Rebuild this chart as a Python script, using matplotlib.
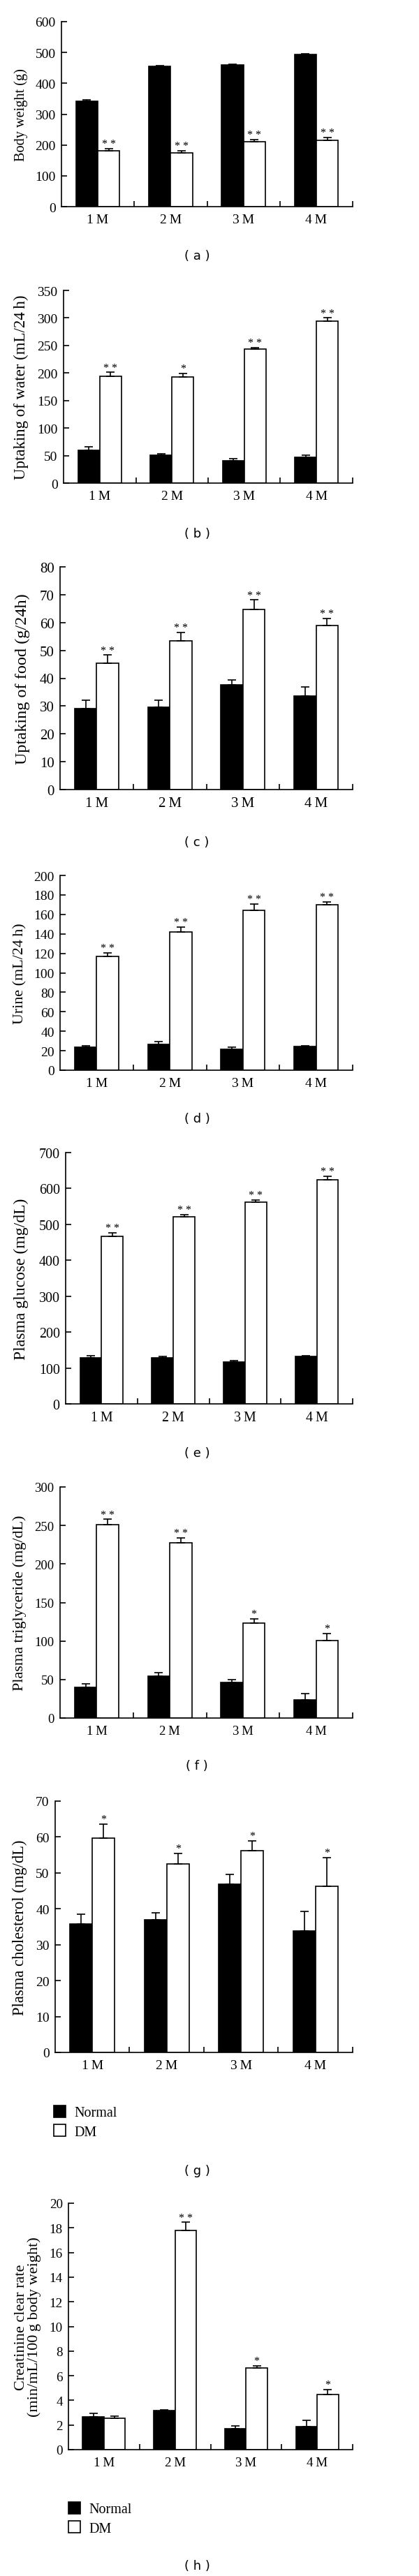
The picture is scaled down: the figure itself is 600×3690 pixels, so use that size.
import matplotlib
matplotlib.use('Agg')
import matplotlib.pyplot as plt
from matplotlib.patches import Patch
import numpy as np

plt.rcParams['font.family'] = ['Liberation Serif', 'DejaVu Serif']

# --- Data ---
months = ['1\u2009M', '2\u2009M', '3\u2009M', '4\u2009M']

weight_normal = [341, 454, 460, 493]
weight_normal_err = [6, 3, 3, 3]
weight_dm = [181, 174, 211, 214]
weight_dm_err = [7, 7, 7, 10]
weight_stars = ['**', '**', '**', '**']

water_normal = [60, 50.5, 41, 47]
water_normal_err = [6, 3, 4, 4]
water_dm = [194, 193, 243, 294]
water_dm_err = [7, 6, 3, 6]
water_stars = ['**', '*', '**', '**']

food_normal = [29.2, 29.5, 37.6, 33.6]
food_normal_err = [2.8, 2.5, 1.7, 3.2]
food_dm = [45.3, 53.4, 64.8, 59.0]
food_dm_err = [3, 3, 3.3, 2.5]
food_stars = ['**', '**', '**', '**']

urine_normal = [23.4, 26.8, 21.3, 24.6]
urine_normal_err = [2, 2.6, 2, 0.8]
urine_dm = [116.7, 142.1, 164.5, 170]
urine_dm_err = [4, 5, 6, 3]
urine_stars = ['**', '**', '**', '**']

glucose_normal = [129, 129, 117, 133]
glucose_normal_err = [6, 2.5, 2.6, 2]
glucose_dm = [467, 522, 562, 625]
glucose_dm_err = [9, 5, 6, 9]
glucose_stars = ['**', '**', '**', '**']

tg_normal = [40, 54.7, 46, 24]
tg_normal_err = [4, 4, 4, 8]
tg_dm = [251, 227.7, 123, 100.6]
tg_dm_err = [7, 6, 5.5, 9]
tg_stars = ['**', '**', '*', '*']

chol_normal = [35.8, 36.9, 46.9, 33.9]
chol_normal_err = [2.7, 2, 2.7, 5.3]
chol_dm = [59.6, 52.5, 56.2, 46.2]
chol_dm_err = [4, 3, 2.8, 8]
chol_stars = ['*', '*', '*', '*']

creat_normal = [2.68, 3.18, 1.70, 1.89]
creat_normal_err = [0.25, 0.07, 0.2, 0.47]
creat_dm = [2.57, 17.8, 6.62, 4.5]
creat_dm_err = [0.17, 0.65, 0.2, 0.38]
creat_stars = ['', '**', '*', '*']

W, H = 600, 3691
RIGHT = 505
fig = plt.figure(figsize=(W / 100, H / 100), dpi=100)

# (normal, err, dm, err, stars, ymax, step, ylabel, tag,
#  left px, top px, zero px, tick size, ylabel size, ylabel x px)
panels = [
    (weight_normal, weight_normal_err, weight_dm, weight_dm_err, weight_stars,
     600, 100, 'Body weight (g)', 'a', 88, 32, 297, 14, 14.6, 30),
    (water_normal, water_normal_err, water_dm, water_dm_err, water_stars,
     350, 50, 'Uptaking of water (mL/24\u2009h)', 'b', 91, 417, 693, 14, 16.5, 30),
    (food_normal, food_normal_err, food_dm, food_dm_err, food_stars,
     80, 10, 'Uptaking of food (g/24h)', 'c', 86, 813, 1132, 15, 17.5, 32),
    (urine_normal, urine_normal_err, urine_dm, urine_dm_err, urine_stars,
     200, 20, 'Urine (mL/24\u2009h)', 'd', 86, 1255, 1534, 14, 15.8, 29),
    (glucose_normal, glucose_normal_err, glucose_dm, glucose_dm_err, glucose_stars,
     700, 100, 'Plasma glucose (mg/dL)', 'e', 94, 1652, 2012, 14.4, 17, 30),
    (tg_normal, tg_normal_err, tg_dm, tg_dm_err, tg_stars,
     300, 50, 'Plasma triglyceride (mg/dL)', 'f', 86, 2131, 2462, 13.5, 16, 28),
    (chol_normal, chol_normal_err, chol_dm, chol_dm_err, chol_stars,
     70, 10, 'Plasma cholesterol (mg/dL)', 'g', 79, 2581, 2941, 14, 16.3, 28),
    (creat_normal, creat_normal_err, creat_dm, creat_dm_err, creat_stars,
     20, 2, 'Creatinine clear rate\n(min/mL/100\u2009g body weight)', 'h', 98, 3157, 3510, 13.7, 16, 40),
]

tag_y = {'a': 367, 'b': 765, 'c': 1207, 'd': 1603, 'e': 2082, 'f': 2530, 'g': 3110, 'h': 3676}

x = np.arange(4)
bw = 0.3
LW = 1.2

for (nv, ne, dv, de, stars, ymax, step, ylabel, tag, left, top, zero, fs, lfs, ylx) in panels:
    ax = fig.add_axes([left / W, 1 - zero / H, (RIGHT - left) / W, (zero - top) / H])
    ax.bar(x - bw / 2, nv, bw, color='black', edgecolor='black', linewidth=LW)
    ax.bar(x + bw / 2, dv, bw, color='white', edgecolor='black', linewidth=LW)
    ax.errorbar(x - bw / 2, nv, yerr=[np.zeros(4), ne], fmt='none', ecolor='black',
                elinewidth=LW, capsize=4, capthick=LW)
    ax.errorbar(x + bw / 2, dv, yerr=[np.zeros(4), de], fmt='none', ecolor='black',
                elinewidth=LW, capsize=4, capthick=LW)
    for i, s in enumerate(stars):
        if s:
            ax.annotate(' '.join(s), (x[i] + bw / 2, dv[i] + de[i]), xytext=(0, 2),
                        textcoords='offset points', ha='center', va='baseline', fontsize=11.5)

    ax.set_xlim(-0.5, 3.5)
    ax.set_ylim(0, ymax)
    ax.set_yticks(np.arange(0, ymax + step / 2, step))
    ax.set_xticks([0.5, 1.5, 2.5, 3.5])
    ax.set_xticklabels([])
    ax.set_xticks(x, minor=True)
    ax.set_xticklabels(months, minor=True, fontsize=fs)
    ax.tick_params(axis='x', which='major', direction='in', length=6, width=LW)
    ax.tick_params(axis='x', which='minor', length=0, pad=7)
    ax.tick_params(axis='y', direction='in', length=6, width=LW, labelsize=fs, pad=6)
    for sp in ['top', 'right']:
        ax.spines[sp].set_visible(False)
    for sp in ['left', 'bottom']:
        ax.spines[sp].set_linewidth(LW)

    fig.text(ylx / W, 1 - (top + zero) / 2 / H, ylabel, rotation=90, ha='center', va='center',
             fontsize=lfs, linespacing=1.0)
    fig.text(282 / W, 1 - tag_y[tag] / H, '( %s )' % tag, ha='center', va='center',
             fontsize=13, family='DejaVu Sans')

# legends below (g) and (h)
handles = [Patch(facecolor='black', edgecolor='black', linewidth=LW),
           Patch(facecolor='white', edgecolor='black', linewidth=LW)]
for lx, ly in [(77, 3017), (98, 3585)]:
    fig.legend(handles, ['Normal', 'DM'], loc='upper left',
               bbox_to_anchor=(lx / W, 1 - ly / H), frameon=False, fontsize=14.5,
               handlelength=0.85, handleheight=0.9, handletextpad=0.6,
               labelspacing=0.35, borderpad=0, borderaxespad=0)

fig.savefig('out.png', dpi=100)
